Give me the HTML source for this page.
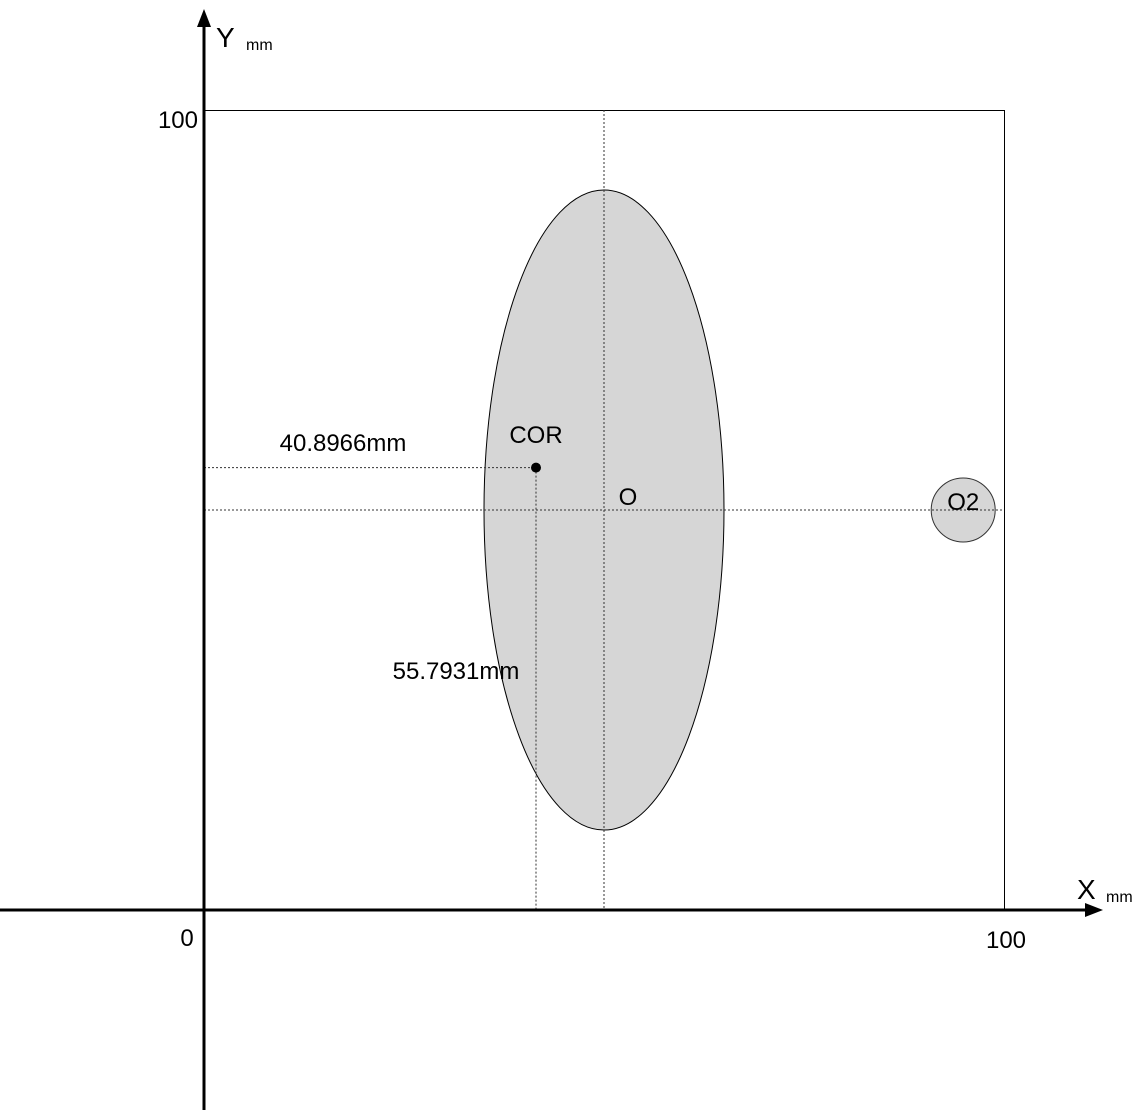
<!DOCTYPE html>
<html><head><meta charset="utf-8"><style>
html,body{margin:0;padding:0;background:#fff;}
svg{display:block;font-family:"Liberation Sans",Arial,sans-serif;}
</style></head><body>
<svg id="chart" width="1147" height="1114" viewBox="0 0 1147 1114"></svg>
<script>
// data (mm)
const axisMax = [100];
const ellipseCenter = [50, 50];
const ellipseRadii = [15, 40];
const corPoint = [41.5, 55.3];
const corLabels = ["40.8966mm", "55.7931mm"];
const o2Center = [94.9, 50];
const o2Radius = [4];

const ox = 204, oy = 910, scale = 8;
const X = v => ox + v * scale;
const Y = v => oy - v * scale;
const svg = document.getElementById('chart');
const NS = 'http://www.w3.org/2000/svg';
function mk(tag, attrs, text) {
  const e = document.createElementNS(NS, tag);
  for (const k in attrs) e.setAttribute(k, attrs[k]);
  if (text !== undefined) e.textContent = text;
  svg.appendChild(e);
  return e;
}
let e;
// frame
e = mk('rect', {x: X(0) + 0.5, y: Y(axisMax[0]) + 0.5, width: X(axisMax[0]) - X(0), height: Y(0) - Y(axisMax[0]), fill: 'none', stroke: '#000', 'stroke-width': 1});


// ellipse
e = mk('ellipse', {cx: X(ellipseCenter[0]), cy: Y(ellipseCenter[1]), rx: ellipseRadii[0] * scale, ry: ellipseRadii[1] * scale, fill: '#d6d6d6', stroke: '#000', 'stroke-width': 1});


// O2
e = mk('circle', {cx: X(o2Center[0]), cy: Y(o2Center[1]), r: o2Radius[0] * scale, fill: '#d6d6d6', stroke: '#333', 'stroke-width': 1});


// dotted guides
const dash = {stroke: '#333', 'stroke-width': 1, 'stroke-dasharray': '2,2', fill: 'none'};
e = mk('line', Object.assign({x1: X(ellipseCenter[0]), y1: Y(axisMax[0]), x2: X(ellipseCenter[0]), y2: Y(0)}, dash));


e = mk('line', Object.assign({x1: X(0), y1: Y(ellipseCenter[1]), x2: X(axisMax[0]), y2: Y(ellipseCenter[1])}, dash));


e = mk('line', Object.assign({x1: X(0), y1: Y(corPoint[1]), x2: X(corPoint[0]), y2: Y(corPoint[1])}, dash));


e = mk('line', Object.assign({x1: X(corPoint[0]), y1: Y(corPoint[1]), x2: X(corPoint[0]), y2: Y(0)}, dash));


// COR point
e = mk('circle', {cx: X(corPoint[0]), cy: Y(corPoint[1]), r: 5, fill: '#000'});


// axes
e = mk('line', {x1: 0, y1: oy, x2: 1090, y2: oy, stroke: '#000', 'stroke-width': 3});


e = mk('polygon', {points: '1103,910 1085,903 1085,917', fill: '#000'});


e = mk('line', {x1: ox, y1: 22, x2: ox, y2: 1110, stroke: '#000', 'stroke-width': 3});


e = mk('polygon', {points: '204,9 197,27 211,27', fill: '#000'});


// labels
const T = (x, y, s, size, name, anchor) => {
  const t = mk('text', {x: x, y: y, 'font-size': size, fill: '#000', 'text-anchor': anchor || 'start'}, s);
  
  
  return t;
};
T(216, 47, 'Y', 28, 'y-axis-title');
T(246, 50, 'mm', 16, 'y-axis-unit');
T(1077, 899, 'X', 28, 'x-axis-title');
T(1106, 902, 'mm', 16, 'x-axis-unit');
T(198, 128, String(axisMax[0]), 24, 'y-tick-100', 'end');
T(1006, 948, String(axisMax[0]), 24, 'x-tick-100', 'middle');
T(187, 946, '0', 24, 'origin-label', 'middle');
T(536, 443, 'COR', 24, 'cor-label', 'middle');
T(628, 505, 'O', 24, 'o-label', 'middle');
T(X(o2Center[0]), 510, 'O2', 24, 'o2-label', 'middle');
T(343, 451, corLabels[0], 24, 'cor-x-distance-label', 'middle');
T(456, 679, corLabels[1], 24, 'cor-y-distance-label', 'middle');
</script>
</body></html>
